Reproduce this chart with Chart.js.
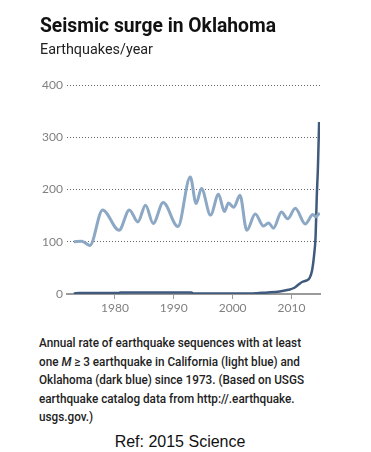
<!DOCTYPE html>
<html>
<head>
<meta charset="utf-8">
<script src="https://cdn.jsdelivr.net/npm/chart.js@4/dist/chart.umd.min.js"></script>
<style>
  html, body { margin: 0; padding: 0; background: #fff; }
  body { width: 371px; height: 452px; position: relative; overflow: hidden; }
  .fit { transform-origin: 0 0; white-space: nowrap; }
  #title { position: absolute; left: 40px; top: 15px; font: bold 21px "Roboto", sans-serif; line-height: 20px; color: #111; }
  #sub { position: absolute; left: 40px; top: 42px; font: 15px "Roboto", sans-serif; line-height: 15px; color: #222; }
  #chartwrap { position: absolute; left: 0; top: 0; width: 371px; height: 330px; }
  #cap { position: absolute; left: 39px; top: 334px; font: 500 13px "Roboto", sans-serif; line-height: 18.5px; color: #222; }
  #ref { position: absolute; left: 0; width: 360px; text-align: center; top: 434px; font: 16px "Liberation Sans", Arial, sans-serif; line-height: 16px; color: #111; white-space: nowrap; }
</style>
</head>
<body>
<div id="chartwrap"><canvas id="c" width="371" height="330"></canvas></div>
<div id="title" class="fit" data-w="236">Seismic surge in Oklahoma</div>
<div id="sub" class="fit" data-w="113">Earthquakes/year</div>
<div id="cap" class="fit" data-w="265">Annual rate of earthquake sequences with at least<br>one <i>M</i> ≥ 3 earthquake in California (light blue) and<br>Oklahoma (dark blue) since 1973. (Based on USGS<br>earthquake catalog data from http://.earthquake.<br>usgs.gov.)</div>
<div id="ref">Ref: 2015 Science</div>
<script>
// California (light blue)
const caYears  = [1973.0, 1974.3, 1974.8, 1975.75, 1977.9, 1980.7, 1982.45, 1983.9, 1985.2, 1986.5, 1988.2, 1990.7, 1992.8, 1993.8, 1994.7, 1996.25, 1997.6, 1998.6, 1999.3, 2000.2, 2001.25, 2002.4, 2003.85, 2005.25, 2006.1, 2006.95, 2008.3, 2009.35, 2010.65, 2012.35, 2013.65, 2014.1, 2014.8];
const caValues = [100, 101, 99, 93, 161, 122, 161, 138, 170, 135, 175, 129, 224, 173, 202, 151, 191, 158, 174, 166, 189, 122, 153, 130, 136, 126, 157, 144, 164, 134, 152, 148, 155];
// Oklahoma (dark blue)
const okYears  = [1973.0, 1974.0, 1980.5, 1981.0, 1993.0, 1993.3, 2003.0, 2004.5, 2006.0, 2008.0, 2009.5, 2010.5, 2011.2, 2011.8, 2012.6, 2013.1, 2013.5, 2013.85, 2014.1, 2014.3, 2014.5, 2014.7];
const okValues = [1, 2, 2, 3, 3, 1, 1, 2, 3, 5, 8, 12, 18, 23, 26, 31, 45, 75, 110, 186, 243, 329];
const xTickYears = [1980, 1990, 2000, 2010];
const yTickValues = [0, 100, 200, 300, 400];

// fit condensed-looking text to its measured width in the reference
document.querySelectorAll('.fit').forEach(el => {
  el.style.display = 'inline-block';
  const w = el.getBoundingClientRect().width;
  const target = parseFloat(el.dataset.w);
  el.style.transform = 'scaleX(' + (target / w) + ')';
});

const toXY = (xs, ys) => xs.map((x, i) => ({ x: x, y: ys[i] }));

new Chart(document.getElementById('c'), {
  type: 'line',
  data: {
    datasets: [
      { label: 'California', data: toXY(caYears, caValues), borderColor: '#8ca8c4', borderWidth: 3, pointRadius: 0, cubicInterpolationMode: 'monotone', fill: false },
      { label: 'Oklahoma', data: toXY(okYears, okValues), borderColor: '#3f5a7d', borderWidth: 2.5, pointRadius: 0, cubicInterpolationMode: 'monotone', fill: false }
    ]
  },
  options: {
    responsive: false,
    animation: false,
    events: [],
    layout: { padding: { left: 0, right: 51, top: 85, bottom: 0 } },
    plugins: { legend: { display: false }, tooltip: { enabled: false }, title: { display: false } },
    scales: {
      x: {
        type: 'linear',
        min: 1971.85,
        max: 2014.85,
        afterFit: (s) => { s.height = 36; },
        afterBuildTicks: (s) => { s.ticks = xTickYears.map(v => ({ value: v })); },
        ticks: { color: '#808080', font: { family: 'Lato', size: 12 }, padding: 2, callback: (v) => String(v) },
        grid: { drawOnChartArea: false, drawTicks: true, tickLength: 5, color: '#999', lineWidth: 1 },
        border: { display: true, color: '#9a9a9a', width: 2 }
      },
      y: {
        min: 0,
        max: 400,
        afterFit: (s) => { s.width = 67; },
        afterBuildTicks: (s) => { s.ticks = yTickValues.map(v => ({ value: v })); },
        ticks: { color: '#808080', font: { family: 'Lato', size: 12 }, padding: 4, callback: (v) => String(v) },
        grid: { drawTicks: false, color: (ctx) => ctx.tick && ctx.tick.value === 0 ? 'rgba(0,0,0,0)' : '#666', lineWidth: 1 },
        border: { display: false, dash: [1, 2] }
      }
    }
  }
});
</script>
</body>
</html>
